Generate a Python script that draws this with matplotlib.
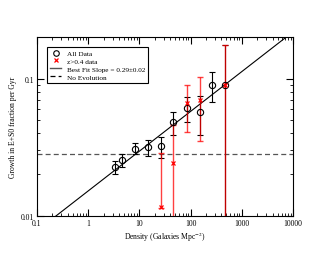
import matplotlib
matplotlib.use("Agg")
import matplotlib.pyplot as plt
import numpy as np
from matplotlib.lines import Line2D

plt.rcParams['font.family'] = ['Liberation Serif', 'DejaVu Serif']
plt.rcParams['mathtext.fontset'] = 'stix'

# All data (black circles)
all_x = [3.4, 4.6, 8.3, 14.9, 26.4, 46, 84, 152, 267, 475]
all_y = [0.0227, 0.0254, 0.0308, 0.0315, 0.032, 0.0481, 0.0608, 0.0569, 0.090, 0.090]
all_hi = [0.0251, 0.028, 0.034, 0.0356, 0.0378, 0.0569, 0.0732, 0.0743, 0.1125, 0.175]
all_lo = [0.0203, 0.0226, 0.028, 0.0274, 0.0262, 0.039, 0.0479, 0.039, 0.0673, 0.005]

# z>0.4 data (red crosses)
z_x = [26.4, 46, 84, 152, 475]
z_y = [0.0115, 0.0242, 0.0658, 0.070, 0.090]
z_hi = [0.0289, 0.0457, 0.090, 0.1035, 0.175]
z_lo = [0.0113, 0.005, 0.0411, 0.035, 0.005]

slope = 0.29
fit_x0, fit_y0 = 0.238, 0.01
no_evo = 0.0281

fig = plt.figure(figsize=(3.3, 2.55), dpi=100)
ax = fig.add_axes([0.112, 0.150, 0.776, 0.700])
ax.set_xscale('log')
ax.set_yscale('log')
ax.set_xlim(0.1, 10000)
ax.set_ylim(0.01, 0.2)

ax.axhline(no_evo, color='#555555', ls=(0, (4, 2.5)), lw=0.9, zorder=1)

fx = np.array([0.1, 10000])
fy = fit_y0 * (fx / fit_x0) ** slope
ax.plot(fx, fy, color='black', lw=0.8, zorder=2)

ax_y = np.array(all_y)
ax.errorbar(all_x, all_y,
            yerr=[ax_y - np.array(all_lo), np.array(all_hi) - ax_y],
            fmt='none', ecolor='black', elinewidth=0.8, capsize=2.2, capthick=0.8, zorder=3)
ax.plot(all_x, all_y, 'o', mfc='none', mec='black', ms=4.5, mew=0.8, zorder=5)

zy = np.array(z_y)
ax.errorbar(z_x, z_y,
            yerr=[zy - np.array(z_lo), np.array(z_hi) - zy],
            fmt='none', ecolor='red', elinewidth=1.0, capsize=2.2, capthick=1.0,
            alpha=0.75, zorder=4)
ax.plot(z_x, z_y, 'x', color='red', ms=3, mew=0.9, zorder=6)

ax.set_xticks([0.1, 1, 10, 100, 1000, 10000])
ax.set_xticklabels(['0.1', '1', '10', '100', '1000', '10000'])
ax.set_yticks([0.01, 0.1])
ax.set_yticklabels(['0.01', '0.1'])
ax.tick_params(which='both', direction='in', top=True, right=True, labelsize=5.5, pad=2)
ax.tick_params(which='major', length=5, width=0.8)
ax.tick_params(which='minor', length=2.5, width=0.6)
for s in ax.spines.values():
    s.set_linewidth(0.8)

ax.set_xlabel('Density (Galaxies Mpc$^{-2}$)', fontsize=5.5, labelpad=2)
ax.set_ylabel('Growth in E+S0 fraction per Gyr', fontsize=5.5, labelpad=3)

handles = [
    Line2D([], [], ls='none', marker='o', mfc='none', mec='black', ms=4.0, mew=0.8),
    Line2D([], [], ls='none', marker='x', color='red', ms=3, mew=0.9),
    Line2D([], [], color='#555555', lw=1.0),
    Line2D([], [], color='black', ls=(0, (4, 2.5)), lw=0.9),
]
labels = ['All Data', 'z>0.4 data', 'Best Fit Slope = 0.29±0.02', 'No Evolution']
leg = ax.legend(handles, labels, loc='upper left', fontsize=5.2, frameon=True,
                fancybox=False, edgecolor='black', framealpha=1,
                handlelength=1.6, handletextpad=0.8, borderpad=0.4,
                labelspacing=0.25, bbox_to_anchor=(0.025, 0.965))
leg.get_frame().set_linewidth(0.8)

fig.savefig('out.png', dpi=100)
